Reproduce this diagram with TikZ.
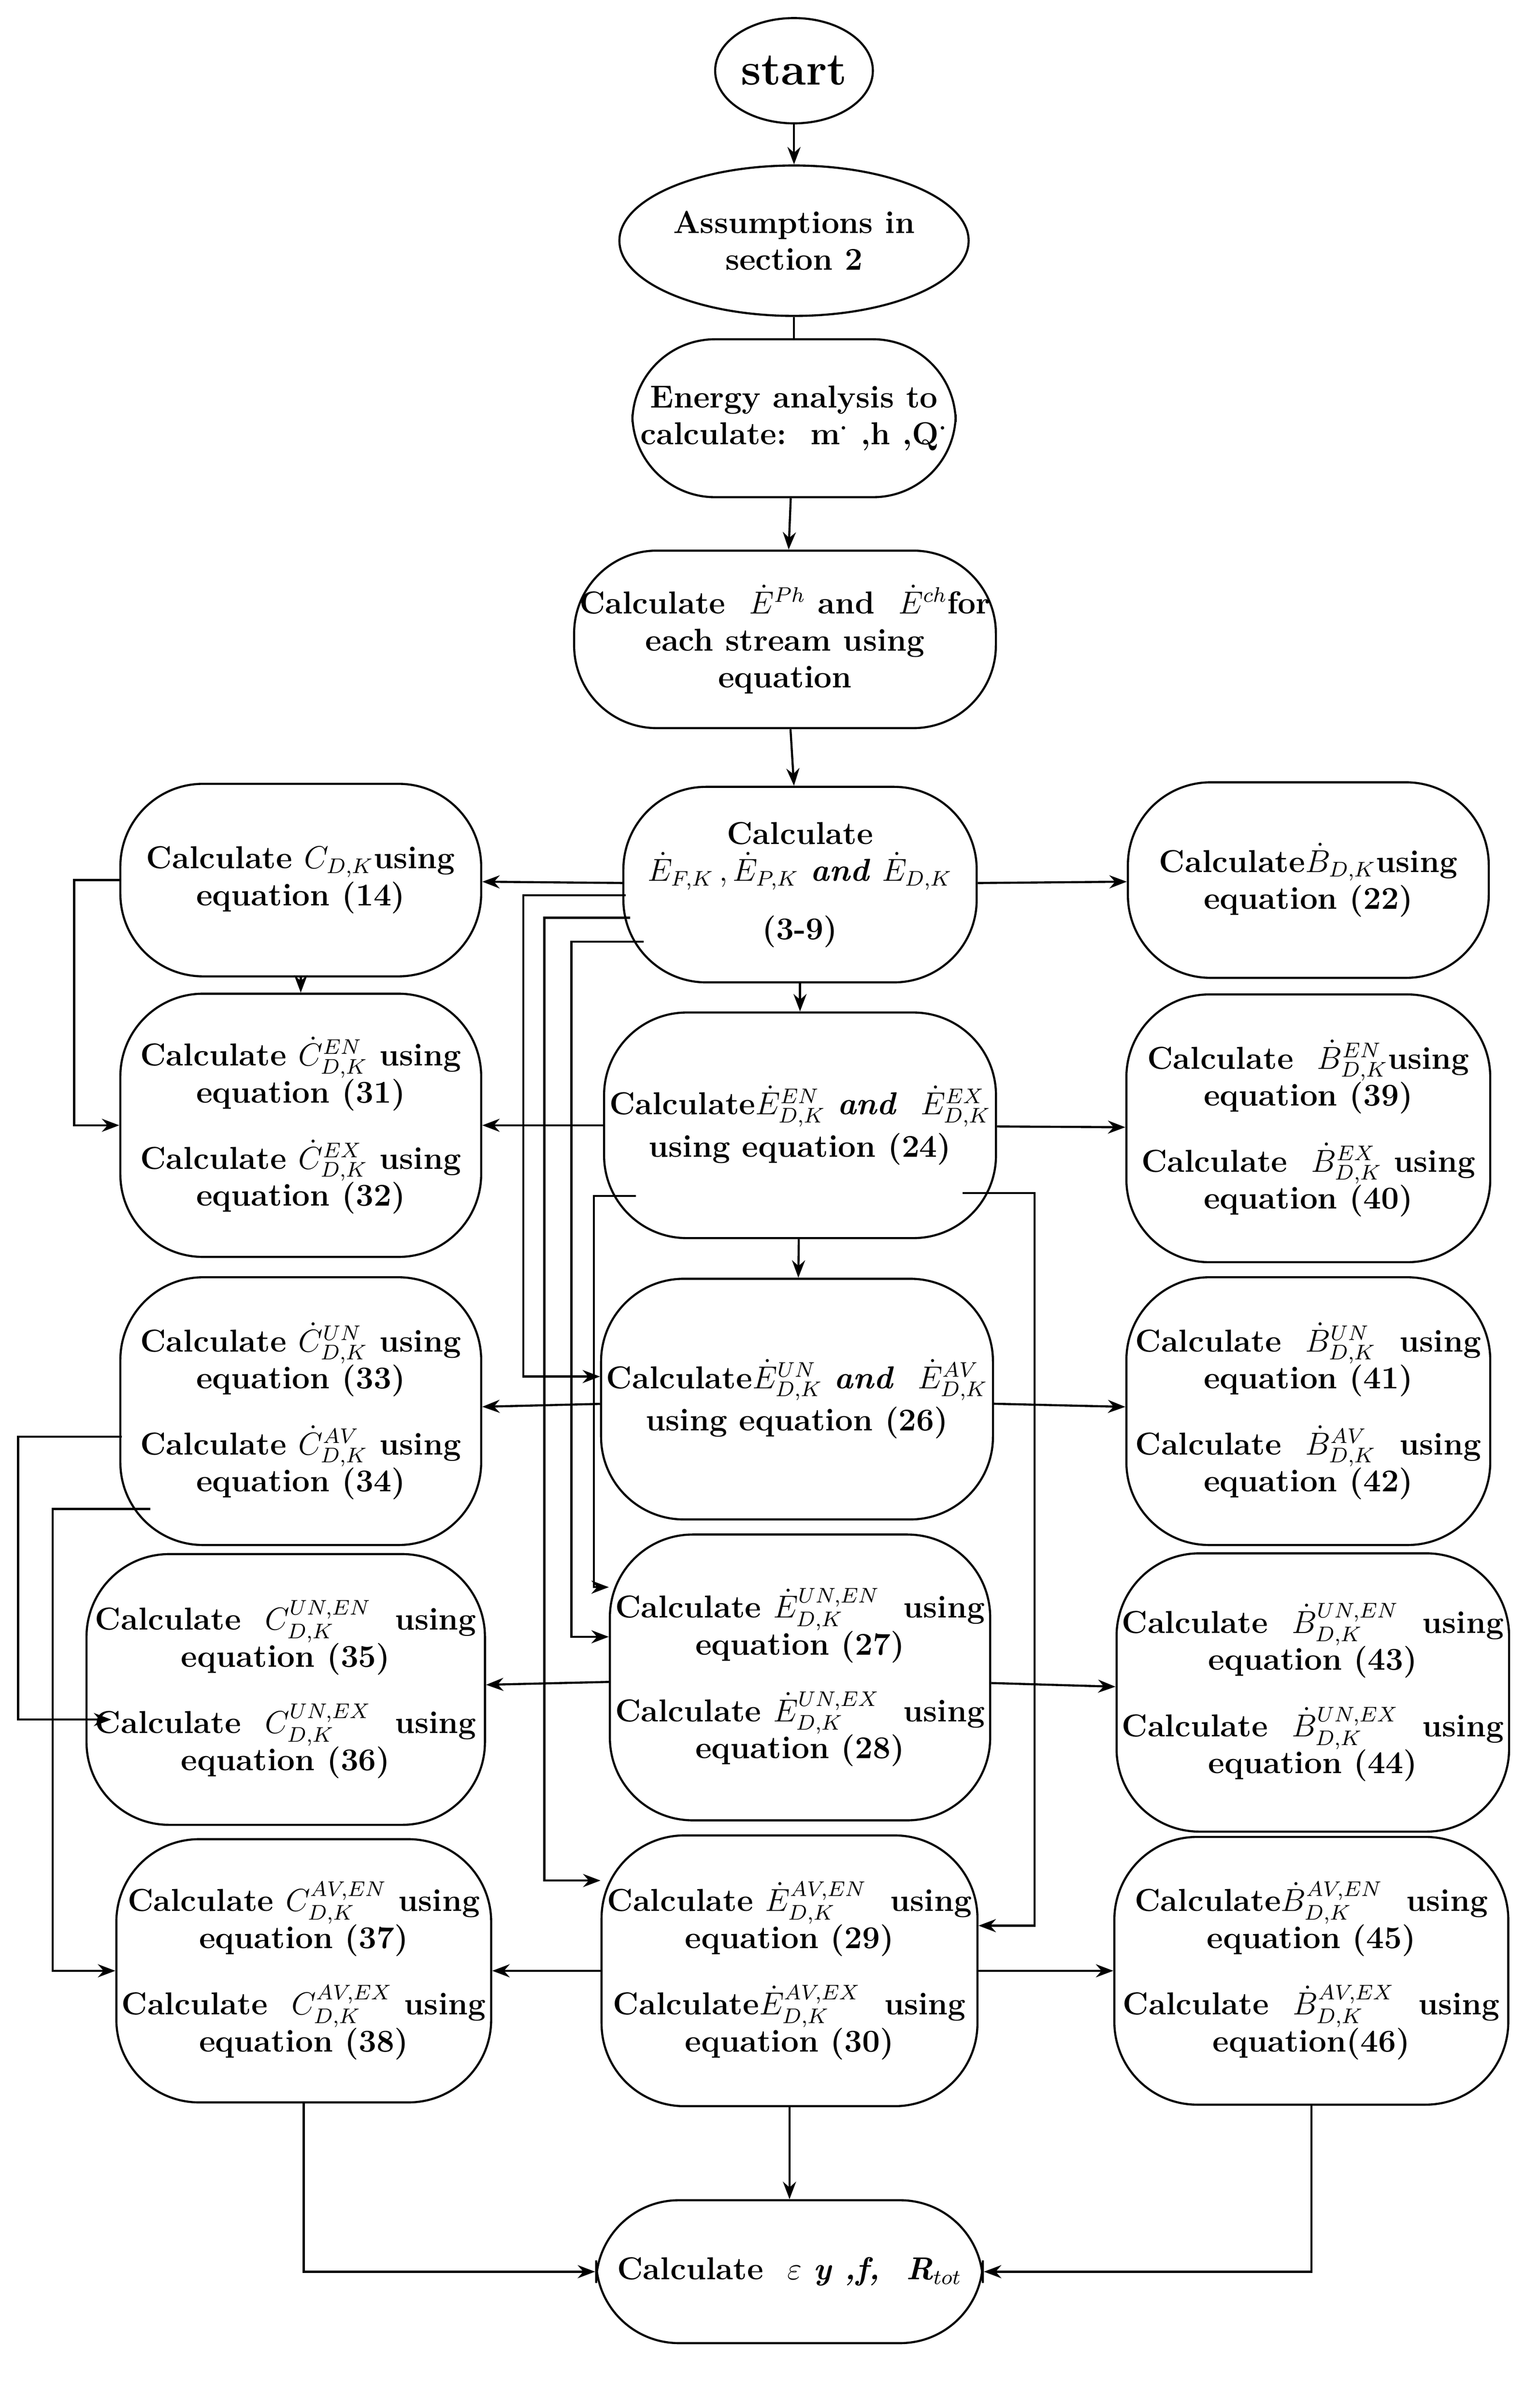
\documentclass[tikz,border=0pt]{standalone}
\usepackage{amsmath}
\usepackage{tikz}
\usetikzlibrary{arrows.meta}
\usetikzlibrary{shapes.geometric}
\begin{document}
\begin{tikzpicture}
			[%%%%%%%%%%%%%%%%%%%%%%%%%%%%%%%%%%%%%%%%%%%%%%%%%%%%%%%%%%
				x=0.02cm,y=-0.02cm,>=Stealth,
				box/.style={draw,thick,rounded corners=1.1cm,align=center,
							font=\large\bfseries,inner sep=2pt},
				oval/.style={draw,thick,ellipse,align=center,font=\large\bfseries,inner sep=1pt},
				link/.style={->,thick},
				line/.style={thick}
			]%%%%%%%%%%%%%%%%%%%%%%%%%%%%%%%%%%%%%%%%%%%%%%%%%%%%%%%%%%
			\useasboundingbox (0,0) rectangle (1024,1588);
			\node[oval,minimum width=2cm,minimum height=1.4cm,font=\LARGE\bfseries] (start) at (528,47) {start};
			\node[oval,minimum width=3.6cm,minimum height=2cm] (assume) at (528,160) {Assumptions in\\section 2};
			\node[box,minimum width=4.3cm,minimum height=2.1cm] (energy) at (528,278) {Energy analysis to\\calculate:\ \ m$^{\boldsymbol\cdot}$ ,h ,Q$^{\boldsymbol\cdot}$};
			\node[box,minimum width=5.6cm,minimum height=2.36cm] (stream) at (522,425) {Calculate \ $\dot{E}^{Ph}$ and \ $\dot{E}^{ch}$for\\each stream using\\equation};
			% center column
			\node[box,minimum width=4.7cm,minimum height=2.6cm] (c1) at (532,588) {Calculate\\$\dot E_{F,K}\,,\dot E_{P,K}$ \textit{and} $\dot E_{D,K}$\\[8pt](3-9)};
			\node[box,minimum width=4.9cm,minimum height=3cm] (c2) at (532,748) {Calculate$\dot E^{EN}_{D,K}$ \textit{and} \ $\dot E^{EX}_{D,K}$\\[2pt]using equation (24)};
			\node[box,minimum width=4.7cm,minimum height=3.2cm] (c3) at (530,930) {Calculate$\dot E^{UN}_{D,K}$ \textit{and} \ $\dot E^{AV}_{D,K}$\\[2pt]using equation (26)};
			\node[box,minimum width=5cm,minimum height=3.8cm] (c4) at (532,1115) {Calculate $\dot E^{UN,EN}_{D,K}$ \ using\\equation (27)\\[10pt]Calculate $\dot E^{UN,EX}_{D,K}$ \ using\\equation (28)};
			\node[box,minimum width=5cm,minimum height=3.6cm] (c5) at (525,1310) {Calculate $\dot E^{AV,EN}_{D,K}$ \ using\\equation (29)\\[10pt]Calculate$\dot E^{AV,EX}_{D,K}$ \ using\\equation (30)};
			\node[box,minimum width=4.7cm,minimum height=1.9cm,inner sep=8pt] (final) at (525,1510) {Calculate \ $\varepsilon$ \textit{y ,f, \ R$_{tot}$}};
			% left column
			\node[box,minimum width=4.8cm,minimum height=2.56cm] (l1) at (200,585) {Calculate $C_{D,K}$using\\equation (14)};
			\node[box,minimum width=4.8cm,minimum height=3.5cm] (l2) at (200,748) {Calculate $\dot C^{EN}_{D,K}$ using\\equation (31)\\[10pt]Calculate $\dot C^{EX}_{D,K}$ using\\equation (32)};
			\node[box,minimum width=4.8cm,minimum height=3.56cm] (l3) at (200,938) {Calculate $\dot C^{UN}_{D,K}$ using\\equation (33)\\[10pt]Calculate $\dot C^{AV}_{D,K}$ using\\equation (34)};
			\node[box,minimum width=5.3cm,minimum height=3.6cm] (l4) at (190,1123) {Calculate \ $C^{UN,EN}_{D,K}$ \ using\\equation (35)\\[10pt]Calculate \ $C^{UN,EX}_{D,K}$ \ using\\equation (36)};
			\node[box,minimum width=4.84cm,minimum height=3.5cm] (l5) at (202,1310) {Calculate $C^{AV,EN}_{D,K}$ using\\equation (37)\\[10pt]Calculate \ $C^{AV,EX}_{D,K}$ using\\equation (38)};
			% right column
			\node[box,minimum width=4.8cm,minimum height=2.6cm] (r1) at (870,585) {Calculate$\dot B_{D,K}$using\\equation (22)};
			\node[box,minimum width=4.84cm,minimum height=3.56cm] (r2) at (870,750) {Calculate \ $\dot B^{EN}_{D,K}$using\\equation (39)\\[10pt]Calculate \ $\dot B^{EX}_{D,K}$ using\\equation (40)};
			\node[box,minimum width=4.84cm,minimum height=3.56cm] (r3) at (870,938) {Calculate \ $\dot B^{UN}_{D,K}$ \ using\\equation (41)\\[10pt]Calculate \ $\dot B^{AV}_{D,K}$ \ using\\equation (42)};
			\node[box,minimum width=5.2cm,minimum height=3.7cm] (r4) at (873,1125) {Calculate \ $\dot B^{UN,EN}_{D,K}$ \ using\\equation (43)\\[10pt]Calculate \ $\dot B^{UN,EX}_{D,K}$ \ using\\equation (44)};
			\node[box,minimum width=5.24cm,minimum height=3.56cm] (r5) at (872,1310) {Calculate$\dot B^{AV,EN}_{D,K}$ \ using\\equation (45)\\[10pt]Calculate \ $\dot B^{AV,EX}_{D,K}$ \ using\\equation(46)};
			% main chain
			\draw[link] (start) -- (assume);
			\draw[line] (assume) -- (energy);
			\draw[link] (energy) -- (stream);
			\draw[link] (stream) -- (c1);
			\draw[link] (c1) -- (c2);
			\draw[link] (c2) -- (c3);
			\draw[link] (c5) -- (final);
			% sideways
			\foreach \i in {1,...,5}{
				\draw[link] (c\i) -- (l\i);
				\draw[link] (c\i) -- (r\i);
			}
			\draw[link] (l1) -- (l2);
			% routed lines
			\coordinate (l3a) at (81,955);
			\coordinate (l3b) at (100,1003);
			\coordinate (c1a) at (416,595);
			\coordinate (c1b) at (419,610);
			\coordinate (c1c) at (428,626);
			\coordinate (c2a) at (423,795);
			\coordinate (c2b) at (640,793);
			\draw[link] (l1.west) -- ++(-30,0) |- (l2.west);
			\draw[link] (l3a) -- (12,955) |- (74,1143);
			\draw[link] (l3b) -- (35,1003) |- (l5.west);
			\draw[link] (c1a) -- (348,595) |- (c3.west |- 0,915);
			\draw[link] (c1b) -- (362,610) |- (c5.west |- 0,1250);
			\draw[link] (c1c) -- (380,626) |- (c4.west |- 0,1088);
			\draw[link] (c2a) -- (395,795) |- (c4.west |- 0,1055);
			\draw[link] (c2b) -- (688,793) |- (c5.east |- 0,1280);
			\draw[link] (l5.south) |- (final.west);
			\draw[link] (r5.south) |- (final.east);
		\end{tikzpicture}
\end{document}
